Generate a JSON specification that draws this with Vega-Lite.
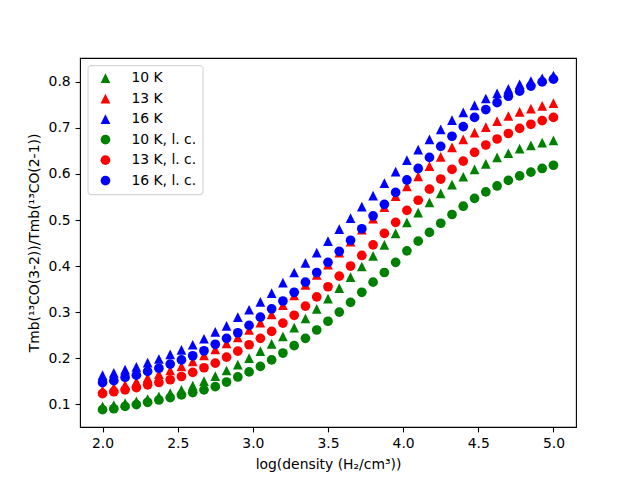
{
  "$schema": "https://vega.github.io/schema/vega-lite/v6.json",
  "width": 496,
  "height": 369,
  "autosize": {"type": "none"},
  "padding": {"left": 80, "top": 58, "right": 64, "bottom": 53},
  "background": "white",
  "datasets": {
    "ratios": [
      {"x":2.0,"y":0.095,"s":"10 K"},{"x":2.075,"y":0.098,"s":"10 K"},{"x":2.15,"y":0.102,"s":"10 K"},{"x":2.225,"y":0.106,"s":"10 K"},{"x":2.3,"y":0.111,"s":"10 K"},{"x":2.375,"y":0.117,"s":"10 K"},{"x":2.45,"y":0.124,"s":"10 K"},{"x":2.525,"y":0.131,"s":"10 K"},{"x":2.6,"y":0.140,"s":"10 K"},{"x":2.675,"y":0.150,"s":"10 K"},{"x":2.75,"y":0.161,"s":"10 K"},{"x":2.825,"y":0.173,"s":"10 K"},{"x":2.9,"y":0.186,"s":"10 K"},{"x":2.975,"y":0.200,"s":"10 K"},{"x":3.05,"y":0.215,"s":"10 K"},{"x":3.125,"y":0.231,"s":"10 K"},{"x":3.2,"y":0.247,"s":"10 K"},{"x":3.275,"y":0.266,"s":"10 K"},{"x":3.35,"y":0.286,"s":"10 K"},{"x":3.425,"y":0.307,"s":"10 K"},{"x":3.5,"y":0.329,"s":"10 K"},{"x":3.575,"y":0.352,"s":"10 K"},{"x":3.65,"y":0.376,"s":"10 K"},{"x":3.725,"y":0.399,"s":"10 K"},{"x":3.8,"y":0.422,"s":"10 K"},{"x":3.875,"y":0.446,"s":"10 K"},{"x":3.95,"y":0.471,"s":"10 K"},{"x":4.025,"y":0.495,"s":"10 K"},{"x":4.1,"y":0.516,"s":"10 K"},{"x":4.175,"y":0.538,"s":"10 K"},{"x":4.25,"y":0.558,"s":"10 K"},{"x":4.325,"y":0.577,"s":"10 K"},{"x":4.4,"y":0.594,"s":"10 K"},{"x":4.475,"y":0.610,"s":"10 K"},{"x":4.55,"y":0.622,"s":"10 K"},{"x":4.625,"y":0.636,"s":"10 K"},{"x":4.7,"y":0.645,"s":"10 K"},{"x":4.775,"y":0.655,"s":"10 K"},{"x":4.85,"y":0.662,"s":"10 K"},{"x":4.925,"y":0.668,"s":"10 K"},{"x":5.0,"y":0.673,"s":"10 K"},
      {"x":2.0,"y":0.130,"s":"13 K"},{"x":2.075,"y":0.136,"s":"13 K"},{"x":2.15,"y":0.142,"s":"13 K"},{"x":2.225,"y":0.149,"s":"13 K"},{"x":2.3,"y":0.157,"s":"13 K"},{"x":2.375,"y":0.165,"s":"13 K"},{"x":2.45,"y":0.173,"s":"13 K"},{"x":2.525,"y":0.182,"s":"13 K"},{"x":2.6,"y":0.193,"s":"13 K"},{"x":2.675,"y":0.206,"s":"13 K"},{"x":2.75,"y":0.219,"s":"13 K"},{"x":2.825,"y":0.232,"s":"13 K"},{"x":2.9,"y":0.245,"s":"13 K"},{"x":2.975,"y":0.261,"s":"13 K"},{"x":3.05,"y":0.277,"s":"13 K"},{"x":3.125,"y":0.295,"s":"13 K"},{"x":3.2,"y":0.315,"s":"13 K"},{"x":3.275,"y":0.336,"s":"13 K"},{"x":3.35,"y":0.359,"s":"13 K"},{"x":3.425,"y":0.381,"s":"13 K"},{"x":3.5,"y":0.403,"s":"13 K"},{"x":3.575,"y":0.429,"s":"13 K"},{"x":3.65,"y":0.453,"s":"13 K"},{"x":3.725,"y":0.479,"s":"13 K"},{"x":3.8,"y":0.503,"s":"13 K"},{"x":3.875,"y":0.528,"s":"13 K"},{"x":3.95,"y":0.552,"s":"13 K"},{"x":4.025,"y":0.573,"s":"13 K"},{"x":4.1,"y":0.595,"s":"13 K"},{"x":4.175,"y":0.617,"s":"13 K"},{"x":4.25,"y":0.637,"s":"13 K"},{"x":4.325,"y":0.658,"s":"13 K"},{"x":4.4,"y":0.675,"s":"13 K"},{"x":4.475,"y":0.690,"s":"13 K"},{"x":4.55,"y":0.702,"s":"13 K"},{"x":4.625,"y":0.715,"s":"13 K"},{"x":4.7,"y":0.726,"s":"13 K"},{"x":4.775,"y":0.735,"s":"13 K"},{"x":4.85,"y":0.742,"s":"13 K"},{"x":4.925,"y":0.748,"s":"13 K"},{"x":5.0,"y":0.754,"s":"13 K"},
      {"x":2.0,"y":0.163,"s":"16 K"},{"x":2.075,"y":0.168,"s":"16 K"},{"x":2.15,"y":0.175,"s":"16 K"},{"x":2.225,"y":0.181,"s":"16 K"},{"x":2.3,"y":0.190,"s":"16 K"},{"x":2.375,"y":0.198,"s":"16 K"},{"x":2.45,"y":0.208,"s":"16 K"},{"x":2.525,"y":0.218,"s":"16 K"},{"x":2.6,"y":0.229,"s":"16 K"},{"x":2.675,"y":0.242,"s":"16 K"},{"x":2.75,"y":0.257,"s":"16 K"},{"x":2.825,"y":0.270,"s":"16 K"},{"x":2.9,"y":0.289,"s":"16 K"},{"x":2.975,"y":0.305,"s":"16 K"},{"x":3.05,"y":0.322,"s":"16 K"},{"x":3.125,"y":0.341,"s":"16 K"},{"x":3.2,"y":0.364,"s":"16 K"},{"x":3.275,"y":0.386,"s":"16 K"},{"x":3.35,"y":0.407,"s":"16 K"},{"x":3.425,"y":0.429,"s":"16 K"},{"x":3.5,"y":0.454,"s":"16 K"},{"x":3.575,"y":0.480,"s":"16 K"},{"x":3.65,"y":0.504,"s":"16 K"},{"x":3.725,"y":0.529,"s":"16 K"},{"x":3.8,"y":0.553,"s":"16 K"},{"x":3.875,"y":0.580,"s":"16 K"},{"x":3.95,"y":0.605,"s":"16 K"},{"x":4.025,"y":0.630,"s":"16 K"},{"x":4.1,"y":0.653,"s":"16 K"},{"x":4.175,"y":0.675,"s":"16 K"},{"x":4.25,"y":0.697,"s":"16 K"},{"x":4.325,"y":0.717,"s":"16 K"},{"x":4.4,"y":0.734,"s":"16 K"},{"x":4.475,"y":0.749,"s":"16 K"},{"x":4.55,"y":0.764,"s":"16 K"},{"x":4.625,"y":0.775,"s":"16 K"},{"x":4.7,"y":0.785,"s":"16 K"},{"x":4.775,"y":0.795,"s":"16 K"},{"x":4.85,"y":0.802,"s":"16 K"},{"x":4.925,"y":0.808,"s":"16 K"},{"x":5.0,"y":0.814,"s":"16 K"},
      {"x":2.0,"y":0.088,"s":"10 K, l. c."},{"x":2.075,"y":0.090,"s":"10 K, l. c."},{"x":2.15,"y":0.095,"s":"10 K, l. c."},{"x":2.225,"y":0.099,"s":"10 K, l. c."},{"x":2.3,"y":0.104,"s":"10 K, l. c."},{"x":2.375,"y":0.109,"s":"10 K, l. c."},{"x":2.45,"y":0.114,"s":"10 K, l. c."},{"x":2.525,"y":0.120,"s":"10 K, l. c."},{"x":2.6,"y":0.125,"s":"10 K, l. c."},{"x":2.675,"y":0.131,"s":"10 K, l. c."},{"x":2.75,"y":0.138,"s":"10 K, l. c."},{"x":2.825,"y":0.148,"s":"10 K, l. c."},{"x":2.9,"y":0.159,"s":"10 K, l. c."},{"x":2.975,"y":0.170,"s":"10 K, l. c."},{"x":3.05,"y":0.182,"s":"10 K, l. c."},{"x":3.125,"y":0.196,"s":"10 K, l. c."},{"x":3.2,"y":0.211,"s":"10 K, l. c."},{"x":3.275,"y":0.227,"s":"10 K, l. c."},{"x":3.35,"y":0.243,"s":"10 K, l. c."},{"x":3.425,"y":0.261,"s":"10 K, l. c."},{"x":3.5,"y":0.280,"s":"10 K, l. c."},{"x":3.575,"y":0.300,"s":"10 K, l. c."},{"x":3.65,"y":0.321,"s":"10 K, l. c."},{"x":3.725,"y":0.343,"s":"10 K, l. c."},{"x":3.8,"y":0.365,"s":"10 K, l. c."},{"x":3.875,"y":0.386,"s":"10 K, l. c."},{"x":3.95,"y":0.408,"s":"10 K, l. c."},{"x":4.025,"y":0.433,"s":"10 K, l. c."},{"x":4.1,"y":0.454,"s":"10 K, l. c."},{"x":4.175,"y":0.473,"s":"10 K, l. c."},{"x":4.25,"y":0.493,"s":"10 K, l. c."},{"x":4.325,"y":0.512,"s":"10 K, l. c."},{"x":4.4,"y":0.530,"s":"10 K, l. c."},{"x":4.475,"y":0.547,"s":"10 K, l. c."},{"x":4.55,"y":0.561,"s":"10 K, l. c."},{"x":4.625,"y":0.574,"s":"10 K, l. c."},{"x":4.7,"y":0.586,"s":"10 K, l. c."},{"x":4.775,"y":0.596,"s":"10 K, l. c."},{"x":4.85,"y":0.604,"s":"10 K, l. c."},{"x":4.925,"y":0.612,"s":"10 K, l. c."},{"x":5.0,"y":0.619,"s":"10 K, l. c."},
      {"x":2.0,"y":0.123,"s":"13 K, l. c."},{"x":2.075,"y":0.127,"s":"13 K, l. c."},{"x":2.15,"y":0.131,"s":"13 K, l. c."},{"x":2.225,"y":0.136,"s":"13 K, l. c."},{"x":2.3,"y":0.142,"s":"13 K, l. c."},{"x":2.375,"y":0.147,"s":"13 K, l. c."},{"x":2.45,"y":0.153,"s":"13 K, l. c."},{"x":2.525,"y":0.160,"s":"13 K, l. c."},{"x":2.6,"y":0.169,"s":"13 K, l. c."},{"x":2.675,"y":0.179,"s":"13 K, l. c."},{"x":2.75,"y":0.189,"s":"13 K, l. c."},{"x":2.825,"y":0.202,"s":"13 K, l. c."},{"x":2.9,"y":0.215,"s":"13 K, l. c."},{"x":2.975,"y":0.229,"s":"13 K, l. c."},{"x":3.05,"y":0.243,"s":"13 K, l. c."},{"x":3.125,"y":0.258,"s":"13 K, l. c."},{"x":3.2,"y":0.276,"s":"13 K, l. c."},{"x":3.275,"y":0.293,"s":"13 K, l. c."},{"x":3.35,"y":0.313,"s":"13 K, l. c."},{"x":3.425,"y":0.333,"s":"13 K, l. c."},{"x":3.5,"y":0.355,"s":"13 K, l. c."},{"x":3.575,"y":0.378,"s":"13 K, l. c."},{"x":3.65,"y":0.400,"s":"13 K, l. c."},{"x":3.725,"y":0.423,"s":"13 K, l. c."},{"x":3.8,"y":0.446,"s":"13 K, l. c."},{"x":3.875,"y":0.471,"s":"13 K, l. c."},{"x":3.95,"y":0.495,"s":"13 K, l. c."},{"x":4.025,"y":0.521,"s":"13 K, l. c."},{"x":4.1,"y":0.543,"s":"13 K, l. c."},{"x":4.175,"y":0.567,"s":"13 K, l. c."},{"x":4.25,"y":0.589,"s":"13 K, l. c."},{"x":4.325,"y":0.610,"s":"13 K, l. c."},{"x":4.4,"y":0.628,"s":"13 K, l. c."},{"x":4.475,"y":0.647,"s":"13 K, l. c."},{"x":4.55,"y":0.663,"s":"13 K, l. c."},{"x":4.625,"y":0.676,"s":"13 K, l. c."},{"x":4.7,"y":0.688,"s":"13 K, l. c."},{"x":4.775,"y":0.699,"s":"13 K, l. c."},{"x":4.85,"y":0.708,"s":"13 K, l. c."},{"x":4.925,"y":0.716,"s":"13 K, l. c."},{"x":5.0,"y":0.723,"s":"13 K, l. c."},
      {"x":2.0,"y":0.147,"s":"16 K, l. c."},{"x":2.075,"y":0.151,"s":"16 K, l. c."},{"x":2.15,"y":0.158,"s":"16 K, l. c."},{"x":2.225,"y":0.163,"s":"16 K, l. c."},{"x":2.3,"y":0.171,"s":"16 K, l. c."},{"x":2.375,"y":0.178,"s":"16 K, l. c."},{"x":2.45,"y":0.187,"s":"16 K, l. c."},{"x":2.525,"y":0.196,"s":"16 K, l. c."},{"x":2.6,"y":0.205,"s":"16 K, l. c."},{"x":2.675,"y":0.216,"s":"16 K, l. c."},{"x":2.75,"y":0.230,"s":"16 K, l. c."},{"x":2.825,"y":0.243,"s":"16 K, l. c."},{"x":2.9,"y":0.255,"s":"16 K, l. c."},{"x":2.975,"y":0.271,"s":"16 K, l. c."},{"x":3.05,"y":0.289,"s":"16 K, l. c."},{"x":3.125,"y":0.307,"s":"16 K, l. c."},{"x":3.2,"y":0.324,"s":"16 K, l. c."},{"x":3.275,"y":0.343,"s":"16 K, l. c."},{"x":3.35,"y":0.365,"s":"16 K, l. c."},{"x":3.425,"y":0.386,"s":"16 K, l. c."},{"x":3.5,"y":0.408,"s":"16 K, l. c."},{"x":3.575,"y":0.432,"s":"16 K, l. c."},{"x":3.65,"y":0.456,"s":"16 K, l. c."},{"x":3.725,"y":0.481,"s":"16 K, l. c."},{"x":3.8,"y":0.509,"s":"16 K, l. c."},{"x":3.875,"y":0.534,"s":"16 K, l. c."},{"x":3.95,"y":0.560,"s":"16 K, l. c."},{"x":4.025,"y":0.587,"s":"16 K, l. c."},{"x":4.1,"y":0.612,"s":"16 K, l. c."},{"x":4.175,"y":0.636,"s":"16 K, l. c."},{"x":4.25,"y":0.660,"s":"16 K, l. c."},{"x":4.325,"y":0.682,"s":"16 K, l. c."},{"x":4.4,"y":0.703,"s":"16 K, l. c."},{"x":4.475,"y":0.723,"s":"16 K, l. c."},{"x":4.55,"y":0.740,"s":"16 K, l. c."},{"x":4.625,"y":0.755,"s":"16 K, l. c."},{"x":4.7,"y":0.769,"s":"16 K, l. c."},{"x":4.775,"y":0.780,"s":"16 K, l. c."},{"x":4.85,"y":0.791,"s":"16 K, l. c."},{"x":4.925,"y":0.800,"s":"16 K, l. c."},{"x":5.0,"y":0.806,"s":"16 K, l. c."}
    ]
  },
  "data": {"name": "ratios"},
  "mark": {"type": "point", "filled": true, "opacity": 1, "size": 94},
  "encoding": {
    "x": {
      "field": "x", "type": "quantitative",
      "scale": {"domain": [1.85, 5.15], "nice": false, "zero": false},
      "axis": {"values": [2.0, 2.5, 3.0, 3.5, 4.0, 4.5, 5.0], "format": ".1f", "title": "log(density (H₂/cm³))", "titlePadding": 7}
    },
    "y": {
      "field": "y", "type": "quantitative",
      "scale": {"domain": [0.0503, 0.852], "nice": false, "zero": false},
      "axis": {"values": [0.1, 0.2, 0.3, 0.4, 0.5, 0.6, 0.7, 0.8], "format": ".1f", "title": "Tmb(¹³CO(3-2))/Tmb(¹³CO(2-1))", "titlePadding": 7}
    },
    "color": {
      "field": "s", "type": "nominal",
      "scale": {"domain": ["10 K", "13 K", "16 K", "10 K, l. c.", "13 K, l. c.", "16 K, l. c."], "range": ["#008000", "#ff0000", "#0000ff", "#008000", "#ff0000", "#0000ff"]},
      "legend": {"title": null, "orient": "none", "legendX": 7.5, "legendY": 7.2}
    },
    "shape": {
      "field": "s", "type": "nominal",
      "scale": {"domain": ["10 K", "13 K", "16 K", "10 K, l. c.", "13 K, l. c.", "16 K, l. c."], "range": ["M0,-1L-1,1L1,1Z", "M0,-1L-1,1L1,1Z", "M0,-1L-1,1L1,1Z", "circle", "circle", "circle"]},
      "legend": {"title": null, "orient": "none", "legendX": 7.5, "legendY": 7.2}
    }
  },
  "config": {
    "font": "DejaVu Sans",
    "view": {"stroke": "#000000", "strokeWidth": 1.1},
    "axis": {
      "domain": false, "grid": false,
      "tickColor": "#000000", "tickSize": 4.9, "tickWidth": 1.1,
      "labelFont": "DejaVu Sans", "labelFontSize": 13.9, "labelColor": "#000000", "labelPadding": 4.9,
      "titleFont": "DejaVu Sans", "titleFontSize": 13.9, "titleFontWeight": "normal", "titleColor": "#000000"
    },
    "legend": {
      "padding": 6, "fillColor": "rgba(255,255,255,0.8)", "strokeColor": "#cccccc", "cornerRadius": 3,
      "symbolSize": 94, "symbolStrokeWidth": 0, "symbolOffset": 5, "labelOffset": 19,
      "labelFont": "DejaVu Sans", "labelFontSize": 13.9, "labelColor": "#000000", "rowPadding": 5.5, "labelLimit": 200
    }
  }
}
